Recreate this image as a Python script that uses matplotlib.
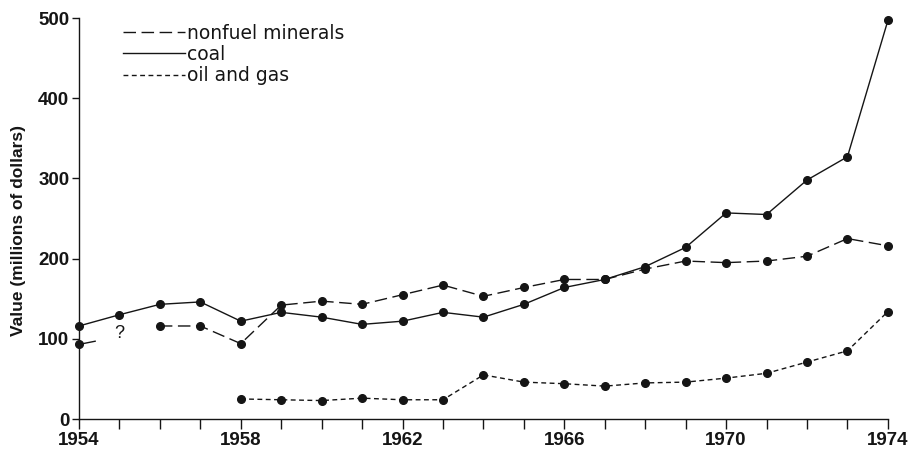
import matplotlib
matplotlib.use("Agg")
import matplotlib.pyplot as plt
from matplotlib.lines import Line2D

# values (millions of dollars)
years = list(range(1954, 1975))
coal = [116, 130, 143, 146, 122, 133, 127, 118, 122, 133, 127, 143, 164, 174, 190,
        214, 257, 255, 298, 327, 497]
# 1955 unknown ("?")
nonfuel = [93, None, 116, 116, 94, 142, 147, 143, 155, 167, 153, 164, 174, 174, 187,
           197, 195, 197, 203, 225, 216]
oil_years = list(range(1958, 1975))
oil_gas = [25, 24, 23, 26, 24, 24, 55, 46, 44, 41, 45, 46, 51, 57, 71, 85, 134]

# short stub drawn from the 1954 nonfuel value toward the missing 1955 value
stub_x = [1954, 1954.4]
stub_y = [93, 97]

ink = "#151515"
plt.rcParams["font.family"] = ["Liberation Sans", "DejaVu Sans"]

fig = plt.figure(figsize=(9.13, 4.49), dpi=100)
ax = fig.add_axes([0.0865, 0.0668, 0.886, 0.893])

long_dash = (0, (9, 4))
short_dash = (0, (3.5, 2.5))

ax.plot(years, coal, color=ink, lw=1.0, marker="o", ms=5.5, clip_on=False, zorder=3)

# nonfuel minerals: segments between known values
nf_x = [y for y, v in zip(years, nonfuel) if v is not None and y >= 1956]
nf_v = [v for y, v in zip(years, nonfuel) if v is not None and y >= 1956]
ax.plot(nf_x, nf_v, color=ink, lw=1.0, ls=long_dash, marker="o", ms=5.5, clip_on=False, zorder=3)
ax.plot([years[0]], [nonfuel[0]], color=ink, marker="o", ms=5.5, clip_on=False, zorder=3)
ax.plot(stub_x, stub_y, color=ink, lw=1.0, clip_on=False)
ax.text(1955, 107, "?", ha="center", va="center", fontsize=13, color=ink)

ax.plot(oil_years, oil_gas, color=ink, lw=1.0, ls=short_dash, marker="o", ms=5.5, clip_on=False, zorder=3)

ax.set_xlim(1954, 1974)
ax.set_ylim(0, 500)
ax.set_xticks(range(1954, 1975, 4))
ax.set_xticks(years, minor=True)
ax.set_yticks(range(0, 501, 100))
ax.spines["top"].set_visible(False)
ax.spines["right"].set_visible(False)
for s in ("left", "bottom"):
    ax.spines[s].set_color(ink)
    ax.spines[s].set_linewidth(1.0)
ax.tick_params(axis="x", which="both", direction="out", length=7, width=1, color=ink,
               labelsize=13.5, pad=2)
ax.tick_params(axis="y", direction="out", length=5, width=1, color=ink, labelsize=13.5, pad=2)
for lab in ax.get_xticklabels() + ax.get_yticklabels():
    lab.set_fontweight("bold")
    lab.set_color(ink)
ax.set_ylabel("Value (millions of dollars)", fontsize=12.5, fontweight="bold", color=ink)
ax.yaxis.set_label_coords(-0.066, 0.47)

handles = [Line2D([], [], color=ink, lw=1.0, ls=long_dash),
           Line2D([], [], color=ink, lw=1.0),
           Line2D([], [], color=ink, lw=1.0, ls=short_dash)]
ax.legend(handles, ["nonfuel minerals", "coal", "oil and gas"], loc="upper left",
          bbox_to_anchor=(0.034, 1.028), frameon=False, handlelength=3.3,
          handletextpad=0.12, labelspacing=0.12, labelcolor=ink,
          prop={"family": "DejaVu Sans", "size": 13.5})

fig.savefig("out.png", dpi=100)
